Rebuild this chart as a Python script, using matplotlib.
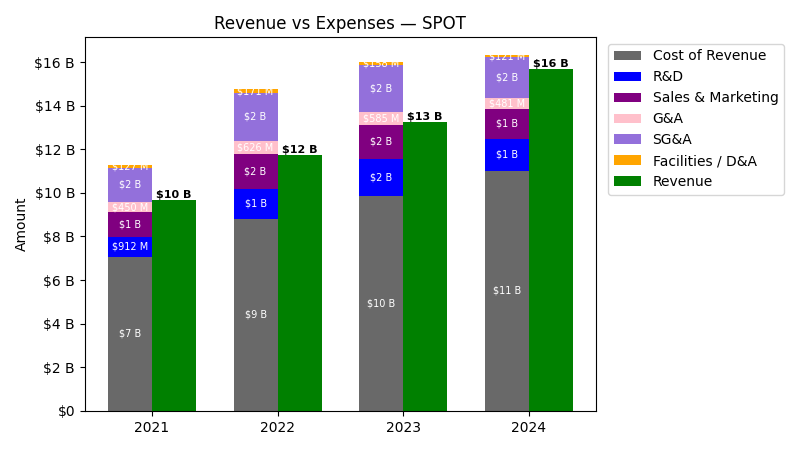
import numpy as np
import matplotlib.pyplot as plt
from matplotlib.ticker import FuncFormatter

years = ["2021", "2022", "2023", "2024"]

# values in billions
cost_of_revenue = [7.077, 8.801, 9.849, 10.997]
rnd = [0.912, 1.387, 1.725, 1.481]
sales_marketing = [1.135, 1.572, 1.549, 1.387]
g_and_a = [0.450, 0.626, 0.585, 0.481]
sg_and_a = [1.585, 2.198, 2.134, 1.868]
facilities = [0.127, 0.171, 0.158, 0.121]
revenue = [9.668, 11.727, 13.247, 15.673]

expenses = [
    ("Cost of Revenue", cost_of_revenue, "dimgray"),
    ("R&D", rnd, "blue"),
    ("Sales & Marketing", sales_marketing, "purple"),
    ("G&A", g_and_a, "pink"),
    ("SG&A", sg_and_a, "mediumpurple"),
    ("Facilities / D&A", facilities, "orange"),
]


def fmt(v):
    if v < 1:
        return f"${v * 1000:.0f} M"
    return f"${v:.0f} B"


def ytick(v, p):
    if v == 0:
        return "$0"
    return f"${v:.0f} B"


x = np.arange(len(years))
w = 0.35

fig, ax = plt.subplots(figsize=(8, 4.5), dpi=100)

bottom = np.zeros(len(years))
for name, vals, color in expenses:
    vals = np.array(vals)
    ax.bar(x - w / 2, vals, w, bottom=bottom, color=color, label=name)
    for xi, b, v in zip(x, bottom, vals):
        ax.text(xi - w / 2, b + v / 2, fmt(v), ha="center", va="center",
                color="white", fontsize=7)
    bottom += vals

ax.bar(x + w / 2, revenue, w, color="green", label="Revenue")
for xi, v in zip(x, revenue):
    ax.text(xi + w / 2, v, fmt(v), ha="center", va="bottom",
            fontsize=8, fontweight="bold")

ax.set_xticks(x)
ax.set_xticklabels(years)
ax.yaxis.set_major_formatter(FuncFormatter(ytick))
ax.set_ylabel("Amount")
ax.set_title("Revenue vs Expenses — SPOT")
ax.legend(loc="upper left", bbox_to_anchor=(1.01, 1))

plt.subplots_adjust(left=0.106, right=0.745, top=0.918, bottom=0.087)
plt.savefig("out.png")
